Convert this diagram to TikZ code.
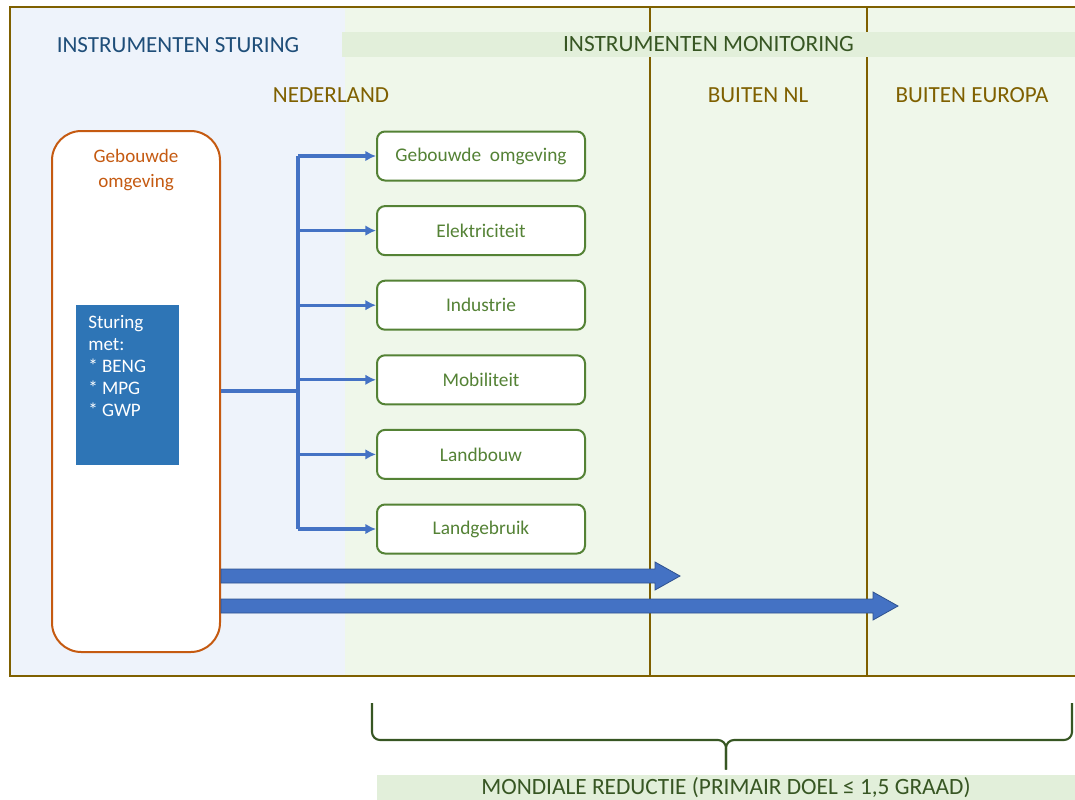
\documentclass[tikz,border=0pt]{standalone}
\usepackage{fontspec}
\setmainfont{Carlito}
\usetikzlibrary{positioning,calc,arrows.meta}
\def\px{0.75pt}
\definecolor{frameC}{RGB}{127,96,0}
\definecolor{blueBg}{RGB}{238,243,251}
\definecolor{greenBg}{RGB}{239,247,234}
\definecolor{bandC}{RGB}{226,239,218}
\definecolor{sturC}{RGB}{31,78,121}
\definecolor{monC}{RGB}{55,86,35}
\definecolor{orangeC}{RGB}{197,90,17}
\definecolor{stBlue}{RGB}{46,117,182}
\definecolor{busC}{RGB}{68,114,196}
\definecolor{busDark}{RGB}{47,82,143}
\definecolor{sectorC}{RGB}{84,130,53}
\tikzstyle{head}=[font=\fontsize{17.3}{20}\selectfont,inner sep=0pt]
\tikzstyle{band}=[fill=bandC,text=monC,inner sep=0pt,font=\fontsize{17.5}{20}\selectfont,minimum height=25*\px]
\tikzstyle{frame}=[draw=frameC,line width=1.6pt]
\tikzstyle{sector}=[draw=sectorC,line width=1.5pt,rounded corners=6pt,fill=white,text=sectorC,
    minimum width=208*\px,minimum height=49*\px,font=\fontsize{14.5}{17}\selectfont]
\tikzstyle{bus}=[busC,line width=2.5pt]
\tikzstyle{block}=[fill=busC,draw=busDark,line width=0.6pt]
\tikzstyle{brace}=[draw=monC,line width=1.6pt,rounded corners=6pt]
\newcommand{\newSector}[3]{\node[sector,#3](#1){#2};}
\newcommand{\newBranch}[1]{\draw[bus,-{Latex[length=8pt,width=8pt]}] (bus |- #1.west) -- (#1.west);}
\newcommand{\newBlockArrow}[2]{\filldraw[block] ($(#1)+(0,-7)$) -- ($(#2)+(-25,-7)$) -- ($(#2)+(-25,-14)$)
    -- (#2) -- ($(#2)+(-25,14)$) -- ($(#2)+(-25,7)$) -- ($(#1)+(0,7)$) -- cycle;}
\begin{document}
\begin{tikzpicture}[x=\px,y=-\px,node distance=23.6*\px,
    >=latex
    ]
    \useasboundingbox (0,0) rectangle (1075,800);
    \clip (0,0) rectangle (1075,800);
    % backgrounds and frame
    \fill[blueBg] (10,7) rectangle (345,676);
    \fill[greenBg] (345,7) rectangle (1090,676);
    \draw[frame] (10,7) rectangle (1090,676);
    \draw[frame] (650,7) -- (650,676);
    \draw[frame] (867,7) -- (867,676);
    % headers
    \node[band,minimum width=733*\px] (mon) at (708.5,44.5) {INSTRUMENTEN MONITORING};
    \node[head,text=sturC] (stur) at (178,45) {INSTRUMENTEN STURING};
    \node[head,text=frameC] (nl) at (331,95) {NEDERLAND};
    \node[head,text=frameC] (bnl) at (758,95) {BUITEN NL};
    \node[head,text=frameC] (beu) at (972,95) {BUITEN EUROPA};
    % gebouwde omgeving
    \node[draw=orangeC,line width=1.5pt,fill=white,rounded corners=22pt,
        minimum width=168*\px,minimum height=521*\px] (gb) at (136,391.5) {};
    \node[text=orangeC,align=center,font=\fontsize{14.3}{18.7}\selectfont,
        below=15*\px of gb.north] (gbTitle) {Gebouwde\\omgeving};
    \node[fill=stBlue,anchor=north west,minimum width=103*\px,minimum height=160*\px] (st) at (76,305) {};
    \node[text=white,align=left,anchor=north west,inner sep=0pt,font=\fontsize{14.3}{16.5}\selectfont]
        (stTxt) at ($(st.north west)+(12,10)$) {Sturing\\met:\\* BENG\\* MPG\\* GWP};
    % sectoren
    \path (481,156) coordinate (goPos);
    \node[sector] (go) at (goPos) {Gebouwde\ \ omgeving};
    \newSector{el}{Elektriciteit}{below=of go}
    \newSector{in}{Industrie}{below=of el}
    \newSector{mo}{Mobiliteit}{below=of in}
    \newSector{lb}{Landbouw}{below=of mo}
    \newSector{lg}{Landgebruik}{below=of lb}
    % verdeling
    \coordinate (bus) at (298,391);
    \draw[bus] (gb.east |- bus) -- (bus);
    \draw[bus] (bus |- go.west) -- (bus |- lg.west);
    \foreach \s in {go,el,in,mo,lb,lg} {\newBranch{\s}}
    % buiten NL / buiten Europa
    \coordinate (nlEnd) at (680,576);
    \coordinate (euEnd) at (898,606);
    \coordinate (nlStart) at (gb.east |- nlEnd);
    \coordinate (euStart) at (gb.east |- euEnd);
    \newBlockArrow{nlStart}{nlEnd}
    \newBlockArrow{euStart}{euEnd}
    % mondiale reductie
    \node[band,minimum width=698*\px] (goal) at (726,787.5) {MONDIALE REDUCTIE (PRIMAIR DOEL ≤ 1,5 GRAAD)};
    \coordinate (brT) at ($(goal.north)+(0,-5)$);
    \coordinate (brL) at (372,703);
    \coordinate (brR) at (1072,703);
    \draw[brace] (brL) -- (brL |- 0,740) -- (brT |- 0,740) -- (brT);
    \draw[brace] (brR) -- (brR |- 0,740) -- (brT |- 0,740) -- (brT);
  \end{tikzpicture}
\end{document}
